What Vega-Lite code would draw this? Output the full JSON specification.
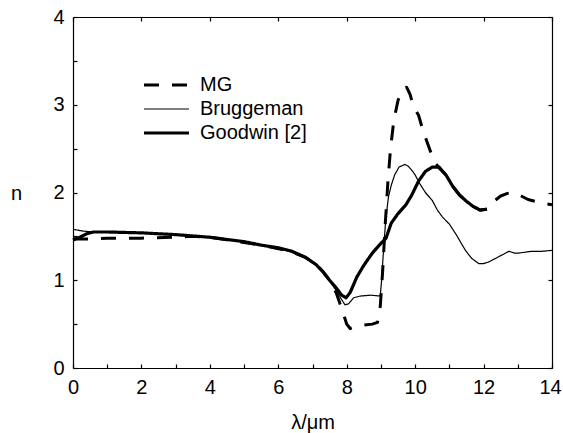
{
  "$schema": "https://vega.github.io/schema/vega-lite/v6.json",
  "autosize": {"type": "none"},
  "padding": {"left": 73, "top": 17, "right": 10, "bottom": 65},
  "width": 479,
  "height": 351,
  "background": "white",
  "config": {
    "view": {"stroke": null},
    "font": "Liberation Sans",
    "axis": {
      "domainColor": "black", "domainWidth": 1.2, "tickColor": "black", "tickWidth": 1.2,
      "labelColor": "black", "labelFont": "Liberation Sans", "labelFontSize": 20,
      "titleColor": "black", "titleFont": "Liberation Sans", "titleFontSize": 20, "titleFontWeight": "normal",
      "grid": false
    },
    "legend": {"labelFont": "Liberation Sans", "labelFontSize": 20, "labelColor": "black"}
  },
  "data": {"values": [
    {"s":"MG","x":0,"y":1.47},{"s":"MG","x":0.5,"y":1.47},{"s":"MG","x":1,"y":1.48},{"s":"MG","x":2,"y":1.48},{"s":"MG","x":3,"y":1.49},{"s":"MG","x":3.5,"y":1.50},{"s":"MG","x":4,"y":1.49},{"s":"MG","x":4.5,"y":1.46},{"s":"MG","x":5,"y":1.43},{"s":"MG","x":5.5,"y":1.40},{"s":"MG","x":6,"y":1.36},{"s":"MG","x":6.4,"y":1.32},{"s":"MG","x":6.8,"y":1.26},{"s":"MG","x":7.1,"y":1.18},{"s":"MG","x":7.3,"y":1.10},{"s":"MG","x":7.5,"y":1.00},{"s":"MG","x":7.7,"y":0.85},{"s":"MG","x":7.85,"y":0.68},{"s":"MG","x":8.0,"y":0.50},{"s":"MG","x":8.1,"y":0.45},{"s":"MG","x":8.25,"y":0.47},{"s":"MG","x":8.5,"y":0.49},{"s":"MG","x":8.75,"y":0.50},{"s":"MG","x":8.9,"y":0.52},{"s":"MG","x":8.98,"y":0.70},{"s":"MG","x":9.05,"y":1.1},{"s":"MG","x":9.12,"y":1.6},{"s":"MG","x":9.2,"y":2.1},{"s":"MG","x":9.28,"y":2.5},{"s":"MG","x":9.38,"y":2.83},{"s":"MG","x":9.5,"y":3.05},{"s":"MG","x":9.62,"y":3.17},{"s":"MG","x":9.75,"y":3.2},{"s":"MG","x":9.85,"y":3.12},{"s":"MG","x":9.95,"y":2.98},{"s":"MG","x":10.1,"y":2.88},{"s":"MG","x":10.25,"y":2.68},{"s":"MG","x":10.4,"y":2.52},{"s":"MG","x":10.55,"y":2.36},{"s":"MG","x":10.7,"y":2.28},{"s":"MG","x":10.9,"y":2.2},{"s":"MG","x":11.1,"y":2.07},{"s":"MG","x":11.3,"y":1.97},{"s":"MG","x":11.5,"y":1.9},{"s":"MG","x":11.7,"y":1.84},{"s":"MG","x":11.9,"y":1.8},{"s":"MG","x":12.1,"y":1.81},{"s":"MG","x":12.3,"y":1.9},{"s":"MG","x":12.5,"y":1.96},{"s":"MG","x":12.7,"y":1.99},{"s":"MG","x":12.9,"y":2.0},{"s":"MG","x":13.1,"y":1.96},{"s":"MG","x":13.3,"y":1.92},{"s":"MG","x":13.5,"y":1.9},{"s":"MG","x":13.7,"y":1.88},{"s":"MG","x":14,"y":1.86},

    {"s":"Bruggeman","x":0,"y":1.58},{"s":"Bruggeman","x":0.3,"y":1.56},{"s":"Bruggeman","x":0.6,"y":1.55},{"s":"Bruggeman","x":1,"y":1.55},{"s":"Bruggeman","x":2,"y":1.54},{"s":"Bruggeman","x":3,"y":1.52},{"s":"Bruggeman","x":4,"y":1.49},{"s":"Bruggeman","x":5,"y":1.44},{"s":"Bruggeman","x":5.5,"y":1.40},{"s":"Bruggeman","x":6,"y":1.36},{"s":"Bruggeman","x":6.4,"y":1.32},{"s":"Bruggeman","x":6.8,"y":1.25},{"s":"Bruggeman","x":7.1,"y":1.17},{"s":"Bruggeman","x":7.3,"y":1.09},{"s":"Bruggeman","x":7.5,"y":0.99},{"s":"Bruggeman","x":7.7,"y":0.88},{"s":"Bruggeman","x":7.85,"y":0.78},{"s":"Bruggeman","x":7.95,"y":0.72},{"s":"Bruggeman","x":8.05,"y":0.73},{"s":"Bruggeman","x":8.2,"y":0.80},{"s":"Bruggeman","x":8.4,"y":0.82},{"s":"Bruggeman","x":8.7,"y":0.83},{"s":"Bruggeman","x":8.98,"y":0.82},{"s":"Bruggeman","x":9.02,"y":1.0},{"s":"Bruggeman","x":9.06,"y":1.25},{"s":"Bruggeman","x":9.14,"y":1.69},{"s":"Bruggeman","x":9.22,"y":1.95},{"s":"Bruggeman","x":9.3,"y":2.08},{"s":"Bruggeman","x":9.4,"y":2.2},{"s":"Bruggeman","x":9.53,"y":2.29},{"s":"Bruggeman","x":9.7,"y":2.32},{"s":"Bruggeman","x":9.8,"y":2.3},{"s":"Bruggeman","x":9.91,"y":2.25},{"s":"Bruggeman","x":10.0,"y":2.2},{"s":"Bruggeman","x":10.12,"y":2.11},{"s":"Bruggeman","x":10.3,"y":2.0},{"s":"Bruggeman","x":10.5,"y":1.91},{"s":"Bruggeman","x":10.65,"y":1.8},{"s":"Bruggeman","x":10.8,"y":1.72},{"s":"Bruggeman","x":11.0,"y":1.64},{"s":"Bruggeman","x":11.2,"y":1.52},{"s":"Bruggeman","x":11.47,"y":1.34},{"s":"Bruggeman","x":11.65,"y":1.25},{"s":"Bruggeman","x":11.86,"y":1.19},{"s":"Bruggeman","x":12.0,"y":1.19},{"s":"Bruggeman","x":12.16,"y":1.21},{"s":"Bruggeman","x":12.45,"y":1.27},{"s":"Bruggeman","x":12.6,"y":1.30},{"s":"Bruggeman","x":12.74,"y":1.33},{"s":"Bruggeman","x":12.9,"y":1.31},{"s":"Bruggeman","x":13.03,"y":1.31},{"s":"Bruggeman","x":13.41,"y":1.33},{"s":"Bruggeman","x":13.7,"y":1.33},{"s":"Bruggeman","x":14,"y":1.34},

    {"s":"Goodwin [2]","x":0,"y":1.46},{"s":"Goodwin [2]","x":0.2,"y":1.49},{"s":"Goodwin [2]","x":0.4,"y":1.53},{"s":"Goodwin [2]","x":0.6,"y":1.55},{"s":"Goodwin [2]","x":1,"y":1.55},{"s":"Goodwin [2]","x":2,"y":1.54},{"s":"Goodwin [2]","x":3,"y":1.52},{"s":"Goodwin [2]","x":4,"y":1.49},{"s":"Goodwin [2]","x":5,"y":1.44},{"s":"Goodwin [2]","x":5.5,"y":1.40},{"s":"Goodwin [2]","x":6,"y":1.37},{"s":"Goodwin [2]","x":6.4,"y":1.33},{"s":"Goodwin [2]","x":6.8,"y":1.26},{"s":"Goodwin [2]","x":7.1,"y":1.18},{"s":"Goodwin [2]","x":7.3,"y":1.10},{"s":"Goodwin [2]","x":7.5,"y":1.00},{"s":"Goodwin [2]","x":7.7,"y":0.91},{"s":"Goodwin [2]","x":7.85,"y":0.83},{"s":"Goodwin [2]","x":7.98,"y":0.80},{"s":"Goodwin [2]","x":8.1,"y":0.86},{"s":"Goodwin [2]","x":8.3,"y":1.04},{"s":"Goodwin [2]","x":8.5,"y":1.17},{"s":"Goodwin [2]","x":8.75,"y":1.31},{"s":"Goodwin [2]","x":9.0,"y":1.42},{"s":"Goodwin [2]","x":9.15,"y":1.48},{"s":"Goodwin [2]","x":9.3,"y":1.65},{"s":"Goodwin [2]","x":9.5,"y":1.76},{"s":"Goodwin [2]","x":9.73,"y":1.86},{"s":"Goodwin [2]","x":9.9,"y":1.97},{"s":"Goodwin [2]","x":10.1,"y":2.13},{"s":"Goodwin [2]","x":10.3,"y":2.24},{"s":"Goodwin [2]","x":10.5,"y":2.29},{"s":"Goodwin [2]","x":10.7,"y":2.29},{"s":"Goodwin [2]","x":10.9,"y":2.2},{"s":"Goodwin [2]","x":11.1,"y":2.07},{"s":"Goodwin [2]","x":11.3,"y":1.97},{"s":"Goodwin [2]","x":11.5,"y":1.9},{"s":"Goodwin [2]","x":11.7,"y":1.84},{"s":"Goodwin [2]","x":11.9,"y":1.8},{"s":"Goodwin [2]","x":12.1,"y":1.81}
  ]},
  "layer": [
    {
      "mark": {"type": "line", "color": "black", "strokeCap": "butt", "strokeJoin": "round"},
      "encoding": {
        "x": {"field": "x", "type": "quantitative", "scale": {"domain": [0, 14], "nice": false, "zero": false},
              "axis": {"orient": "bottom", "title": "λ/μm", "values": [0,1,2,3,4,5,6,7,8,9,10,11,12,13,14], "format": "~g",
                       "labelExpr": "datum.value % 2 == 0 ? datum.label : ''", "tickSize": -4, "labelPadding": 13,
                       "labelOffset": {"condition": {"test": "datum.value == 14", "value": -2}, "value": 0},
                       "titleY": 60, "titleBaseline": "alphabetic", "labelFlush": false}},
        "y": {"field": "y", "type": "quantitative", "scale": {"domain": [0, 4], "nice": false},
              "axis": {"orient": "left", "title": "n", "values": [0,0.5,1,1.5,2,2.5,3,3.5,4], "format": "~g",
                       "labelExpr": "datum.value % 1 == 0 ? datum.label : ''", "tickSize": -4, "labelPadding": 13,
                       "titleAngle": 0, "titleX": -57, "titleY": 176, "titleAlign": "center", "titleBaseline": "middle"}},
        "strokeDash": {"field": "s", "type": "nominal",
                       "scale": {"domain": ["MG", "Bruggeman", "Goodwin [2]"], "range": [[15, 13], [1, 0], [1, 0]]},
                       "legend": {"title": null, "orient": "none", "legendX": 69, "legendY": 58, "padding": 0,
                                  "symbolType": "stroke", "symbolSize": 2025, "symbolStrokeColor": "black",
                                  "clipHeight": 20, "rowPadding": 4, "labelOffset": 9}},
        "strokeWidth": {"field": "s", "type": "nominal",
                        "scale": {"type": "ordinal", "domain": ["MG", "Bruggeman", "Goodwin [2]"], "range": [3, 1.2, 3.2]},
                        "legend": {"title": null, "orient": "none", "legendX": 69, "legendY": 58, "padding": 0,
                                   "symbolType": "stroke", "symbolSize": 2025, "symbolStrokeColor": "black",
                                   "clipHeight": 20, "rowPadding": 4, "labelOffset": 9}}
      }
    },
    {
      "mark": {"type": "point", "opacity": 0},
      "encoding": {
        "x": {"field": "x", "type": "quantitative",
              "axis": {"orient": "top", "title": null, "labels": false, "values": [0,2,4,6,8,10,12,14], "tickSize": -4}},
        "y": {"field": "y", "type": "quantitative",
              "axis": {"orient": "right", "title": null, "labels": false, "values": [0,1,2,3,4], "tickSize": -4}}
      }
    }
  ],
  "resolve": {"axis": {"x": "independent", "y": "independent"}}
}
